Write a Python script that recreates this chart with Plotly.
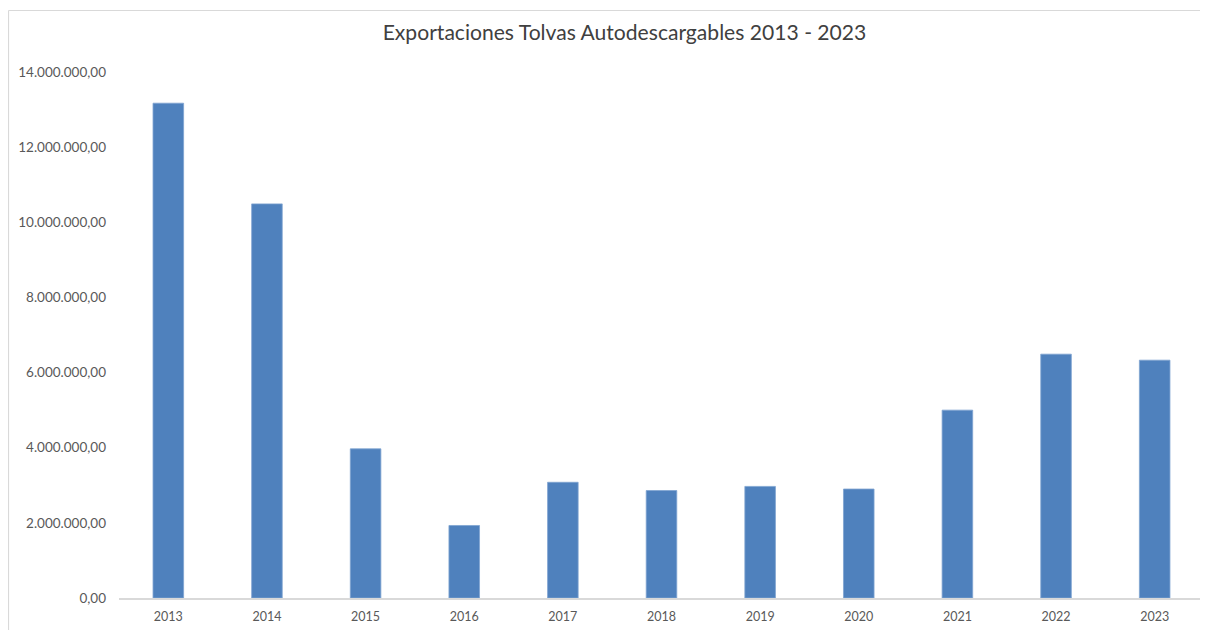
import plotly.graph_objects as go

years = ["2013", "2014", "2015", "2016", "2017", "2018", "2019", "2020", "2021", "2022", "2023"]
exports = [13170000, 10490000, 3970000, 1930000, 3080000, 2860000, 2970000, 2900000, 5000000, 6490000, 6330000]
ytick_vals = [0, 2000000, 4000000, 6000000, 8000000, 10000000, 12000000, 14000000]
ytick_text = ["0,00", "2.000.000,00", "4.000.000,00", "6.000.000,00", "8.000.000,00",
              "10.000.000,00", "12.000.000,00", "14.000.000,00"]
title = "Exportaciones Tolvas Autodescargables 2013 - 2023"

FONT = "Lato, 'Open Sans', sans-serif"
GRAY = "#595959"

fig = go.Figure()
fig.add_trace(go.Bar(
    x=years, y=exports,
    marker=dict(color="#4F81BD", line=dict(color="#7FA3D0", width=0.8)),
    hoverinfo="x+y",
))

# page body has an 8px margin; figure sized to fit the window
W, H = 1200, 622
ml, mr, mt, mb = 111, 4, 64, 32
pw, ph = W - ml - mr, H - mt - mb

fig.update_layout(
    width=W, height=H,
    margin=dict(l=ml, r=mr, t=mt, b=mb, pad=0),
    paper_bgcolor="white", plot_bgcolor="white",
    bargap=0.69,
    showlegend=False,
    font=dict(family=FONT, color=GRAY, size=12),
    title=dict(text=title, x=616.5 / W, xanchor="center", y=1 - 25 / H, yanchor="middle",
               font=dict(family=FONT, size=21.1, color="#404040")),
    xaxis=dict(
        type="category", showgrid=False, zeroline=False,
        showline=True, linecolor="#D9D9D9", linewidth=1.5,
        ticks="", tickfont=dict(size=12.5, color=GRAY), ticklabelstandoff=6,
    ),
    yaxis=dict(
        range=[0, 14000000], showgrid=False, zeroline=False, showline=False,
        tickmode="array", tickvals=ytick_vals, ticktext=ytick_text,
        ticks="", tickfont=dict(size=13.5, color=GRAY), ticklabelstandoff=12,
    ),
)

# chart-area border (decoration): left and top edges only
bx = (0.5 - ml) / pw
by = (H - mb - 2.5) / ph
border = dict(color="#D9D9D9", width=1.2)
fig.add_shape(type="line", xref="paper", yref="paper", x0=bx, x1=bx, y0=-0.2, y1=by,
              line=border, layer="below")
fig.add_shape(type="line", xref="paper", yref="paper", x0=bx, x1=1.05, y0=by, y1=by,
              line=border, layer="below")

fig.write_html("out.html")
